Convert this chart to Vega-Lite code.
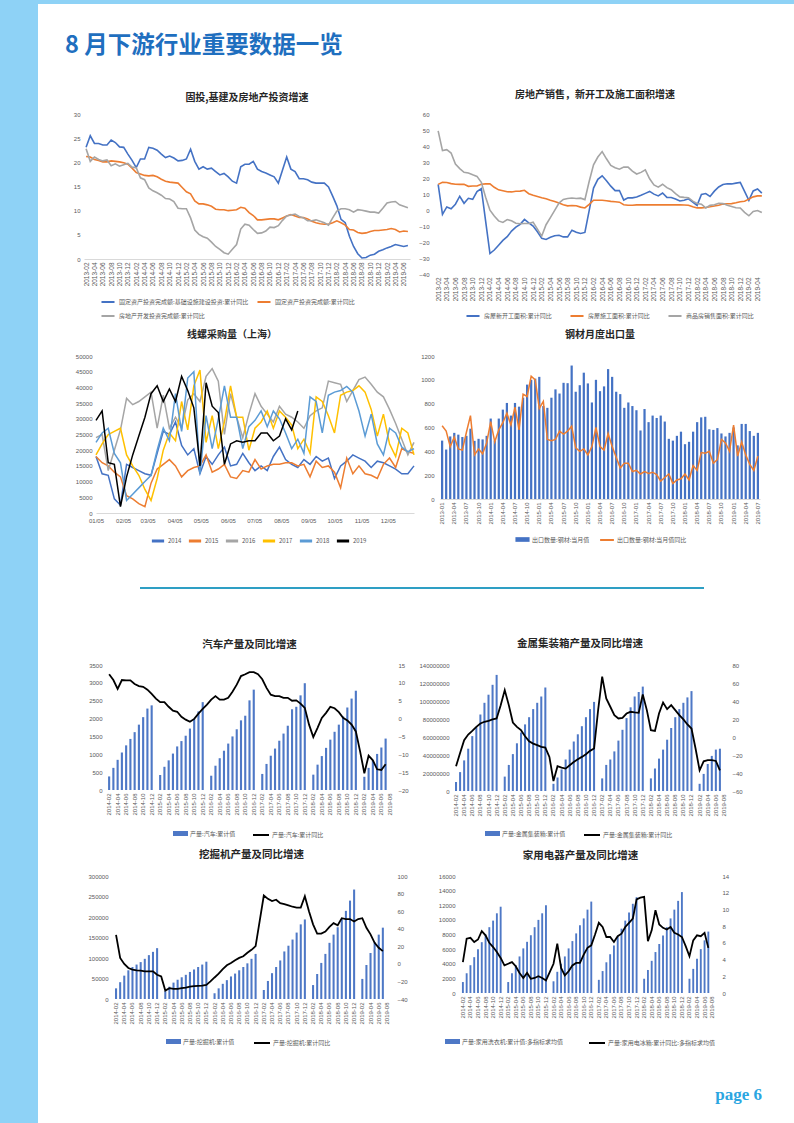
{
"$schema":"https://vega.github.io/schema/vega-lite/v6.json",
"padding":0,
"background":"white",
"columns":2,
"spacing":0,
"bounds":"flush",
"align":"each",
"resolve":{"scale":{"color":"independent","fill":"independent","stroke":"independent"},"legend":{"color":"independent","fill":"independent","stroke":"independent"}},
"concat":[
{"width":38,"height":114,"data":{"values":[{}]},"mark":{"type":"rect","color":"#8ED2F6"},"encoding":{}},
{"width":756,"height":4,"data":{"values":[{}]},"mark":{"type":"rect","color":"#8ED2F6"},"encoding":{},"title":{"text":"8 月下游行业重要数据一览","orient":"bottom","anchor":"start","dx":27,"offset":30,"fontSize":23.5,"fontWeight":"bold","color":"#1F6FBF"}},

{"width":38,"height":242,"data":{"values":[{}]},"mark":{"type":"rect","color":"#8ED2F6"},"encoding":{}},
{"spacing":0,"bounds":"flush","resolve":{"scale":{"color":"independent","fill":"independent","stroke":"independent"},"legend":{"color":"independent","fill":"independent","stroke":"independent"}},"hconcat":[
{"width":46,"height":1,"data":{"values":[]},"mark":"rect"},
{"width":326,"height":145,
 "title":{"text":"固投,基建及房地产投资增速","offset":8},
 "data":{"values":[
{"m":"2013-02","a":23.1,"b":21.2,"c":22.8},{"m":"2013-03","a":25.5,"b":21.1,"c":20.2},{"m":"2013-04","a":23.9,"b":20.6,"c":21.1},{"m":"2013-05","a":23.9,"b":20.4,"c":20.6},{"m":"2013-06","a":23.6,"b":20.1,"c":20.3},{"m":"2013-07","a":23.6,"b":20.1,"c":20.5},{"m":"2013-08","a":24.6,"b":20.3,"c":19.3},{"m":"2013-09","a":24.1,"b":20.2,"c":19.7},{"m":"2013-10","a":23.2,"b":20.1,"c":19.2},{"m":"2013-11","a":23.1,"b":19.9,"c":19.5},{"m":"2013-12","a":21.7,"b":19.6,"c":19.8},
{"m":"2014-01","a":20.4,"b":18.8,"c":19.0},{"m":"2014-02","a":18.9,"b":17.9,"c":18.9},{"m":"2014-03","a":20.7,"b":17.6,"c":16.8},{"m":"2014-04","a":20.7,"b":17.3,"c":16.4},{"m":"2014-05","a":23.1,"b":17.2,"c":14.7},{"m":"2014-06","a":22.9,"b":17.3,"c":14.1},{"m":"2014-07","a":22.5,"b":17.0,"c":13.7},{"m":"2014-08","a":21.7,"b":16.5,"c":13.2},{"m":"2014-09","a":21.0,"b":16.1,"c":12.5},{"m":"2014-10","a":21.3,"b":15.9,"c":12.4},{"m":"2014-11","a":20.9,"b":15.8,"c":11.9},{"m":"2014-12","a":20.3,"b":15.7,"c":10.5},
{"m":"2015-01","a":20.4,"b":14.8,"c":10.4},{"m":"2015-02","a":20.7,"b":13.9,"c":10.4},{"m":"2015-03","a":22.7,"b":13.5,"c":8.5},{"m":"2015-04","a":20.2,"b":12.0,"c":6.0},{"m":"2015-05","a":18.6,"b":11.4,"c":5.1},{"m":"2015-06","a":19.1,"b":11.4,"c":4.6},{"m":"2015-07","a":18.6,"b":11.2,"c":4.3},{"m":"2015-08","a":18.8,"b":10.9,"c":3.5},{"m":"2015-09","a":18.1,"b":10.3,"c":2.6},{"m":"2015-10","a":17.4,"b":10.2,"c":2.0},{"m":"2015-11","a":17.7,"b":10.2,"c":1.3},{"m":"2015-12","a":17.0,"b":10.0,"c":1.0},
{"m":"2016-01","a":16.1,"b":10.1,"c":2.0},{"m":"2016-02","a":15.7,"b":10.2,"c":3.0},{"m":"2016-03","a":19.1,"b":10.7,"c":6.2},{"m":"2016-04","a":19.6,"b":10.5,"c":7.2},{"m":"2016-05","a":19.6,"b":9.6,"c":7.0},{"m":"2016-06","a":20.2,"b":9.0,"c":6.1},{"m":"2016-07","a":18.6,"b":8.1,"c":5.3},{"m":"2016-08","a":18.1,"b":8.1,"c":5.4},{"m":"2016-09","a":17.8,"b":8.2,"c":5.8},{"m":"2016-10","a":17.4,"b":8.3,"c":6.6},{"m":"2016-11","a":17.0,"b":8.3,"c":6.5},{"m":"2016-12","a":15.7,"b":8.1,"c":6.9},
{"m":"2017-01","a":18.4,"b":8.5,"c":8.0},{"m":"2017-02","a":21.1,"b":8.9,"c":8.9},{"m":"2017-03","a":18.6,"b":9.2,"c":9.1},{"m":"2017-04","a":18.1,"b":8.9,"c":9.3},{"m":"2017-05","a":16.6,"b":8.6,"c":8.8},{"m":"2017-06","a":16.6,"b":8.6,"c":8.5},{"m":"2017-07","a":16.4,"b":8.3,"c":7.9},{"m":"2017-08","a":15.9,"b":7.8,"c":7.9},{"m":"2017-09","a":15.7,"b":7.5,"c":8.1},{"m":"2017-10","a":15.7,"b":7.3,"c":7.8},{"m":"2017-11","a":15.7,"b":7.2,"c":7.5},{"m":"2017-12","a":14.9,"b":7.2,"c":7.0},
{"m":"2018-01","a":13.0,"b":7.5,"c":8.5},{"m":"2018-02","a":11.0,"b":7.9,"c":9.9},{"m":"2018-03","a":8.2,"b":7.5,"c":10.4},{"m":"2018-04","a":7.5,"b":7.0,"c":10.4},{"m":"2018-05","a":4.7,"b":6.1,"c":10.2},{"m":"2018-06","a":2.6,"b":6.0,"c":9.7},{"m":"2018-07","a":1.1,"b":5.5,"c":10.2},{"m":"2018-08","a":0.2,"b":5.3,"c":10.1},{"m":"2018-09","a":0.3,"b":5.4,"c":9.9},{"m":"2018-10","a":0.8,"b":5.7,"c":9.7},{"m":"2018-11","a":1.0,"b":5.9,"c":9.7},{"m":"2018-12","a":1.6,"b":5.9,"c":9.5},
{"m":"2019-01","a":1.9,"b":6.0,"c":10.5},{"m":"2019-02","a":2.3,"b":6.1,"c":11.6},{"m":"2019-03","a":2.6,"b":6.3,"c":11.8},{"m":"2019-04","a":3.0,"b":6.1,"c":11.9},{"m":"2019-05","a":2.8,"b":5.6,"c":11.2},{"m":"2019-06","a":2.6,"b":5.8,"c":10.9},{"m":"2019-07","a":2.8,"b":5.7,"c":10.6}
 ]},
 "transform":[{"fold":["a","b","c"],"as":["k","v"]}],
 "mark":{"type":"line","strokeWidth":1.6},
 "encoding":{
  "x":{"field":"m","type":"ordinal","title":null,"axis":{"labelAngle":-90,"labelFontSize":6.5,"labelOverlap":false,"labelPadding":3,"domain":true,"domainColor":"#D9D9D9","labelExpr":"toNumber(substring(datum.label,5,7)) % 2 == 0 ? datum.label : ''"}},
  "y":{"field":"v","type":"quantitative","title":null,"scale":{"domain":[0,30],"nice":false},"axis":{"values":[0,5,10,15,20,25,30],"format":"d"}},
  "color":{"field":"k","type":"nominal","scale":{"domain":["a","b","c"],"range":["#4472C4","#ED7D31","#A5A5A5"]},"legend":{"title":null,"orient":"none","legendX":16,"legendY":180,"direction":"horizontal","columns":2,"symbolType":"stroke","symbolSize":170,"symbolStrokeWidth":2,"columnPadding":4,"rowPadding":2,"labelExpr":"datum.label == 'a' ? '固定资产投资完成额:基础设施建设投资:累计同比' : datum.label == 'b' ? '固定资产投资完成额:累计同比' : '房地产开发投资完成额:累计同比'"}}
 }},
{"width":26,"height":1,"data":{"values":[]},"mark":"rect"},
{"width":328,"height":160,
 "title":{"text":"房地产销售，新开工及施工面积增速","offset":11,"dx":-5},
 "data":{"values":[
{"m":"2013-02","a":16.0,"b":16.0,"c":49.5},{"m":"2013-03","a":-2.7,"b":17.3,"c":37.1},{"m":"2013-04","a":1.9,"b":17.2,"c":37.7},{"m":"2013-05","a":0.8,"b":16.5,"c":35.6},{"m":"2013-06","a":3.6,"b":16.1,"c":28.7},{"m":"2013-07","a":8.6,"b":16.0,"c":25.9},{"m":"2013-08","a":4.2,"b":16.1,"c":23.6},{"m":"2013-09","a":7.3,"b":14.8,"c":23.1},{"m":"2013-10","a":6.7,"b":15.0,"c":22.0},{"m":"2013-11","a":11.5,"b":15.0,"c":21.0},{"m":"2013-12","a":13.4,"b":16.1,"c":17.3},
{"m":"2014-01","a":-7.0,"b":16.3,"c":8.0},{"m":"2014-02","a":-27.2,"b":16.3,"c":-0.1},{"m":"2014-03","a":-25.0,"b":14.2,"c":-3.8},{"m":"2014-04","a":-22.0,"b":12.6,"c":-6.8},{"m":"2014-05","a":-19.0,"b":12.0,"c":-7.8},{"m":"2014-06","a":-16.7,"b":11.4,"c":-6.0},{"m":"2014-07","a":-13.2,"b":11.3,"c":-6.7},{"m":"2014-08","a":-10.7,"b":11.7,"c":-8.3},{"m":"2014-09","a":-9.0,"b":11.8,"c":-8.6},{"m":"2014-10","a":-5.9,"b":12.3,"c":-8.4},{"m":"2014-11","a":-8.0,"b":10.2,"c":-8.4},{"m":"2014-12","a":-10.0,"b":9.2,"c":-7.6},
{"m":"2015-01","a":-13.6,"b":8.5,"c":-12.0},{"m":"2015-02","a":-17.7,"b":7.7,"c":-16.3},{"m":"2015-03","a":-18.4,"b":7.0,"c":-9.2},{"m":"2015-04","a":-17.1,"b":6.1,"c":-4.8},{"m":"2015-05","a":-16.1,"b":5.3,"c":-0.2},{"m":"2015-06","a":-15.8,"b":4.3,"c":4.3},{"m":"2015-07","a":-16.8,"b":3.3,"c":6.6},{"m":"2015-08","a":-16.8,"b":2.6,"c":7.2},{"m":"2015-09","a":-12.6,"b":2.8,"c":7.5},{"m":"2015-10","a":-13.9,"b":2.7,"c":7.2},{"m":"2015-11","a":-14.7,"b":1.8,"c":7.4},{"m":"2015-12","a":-14.0,"b":1.3,"c":6.5},
{"m":"2016-01","a":-0.2,"b":3.5,"c":18.0},{"m":"2016-02","a":13.7,"b":6.1,"c":28.2},{"m":"2016-03","a":19.2,"b":6.1,"c":33.1},{"m":"2016-04","a":21.4,"b":6.1,"c":36.5},{"m":"2016-05","a":18.3,"b":5.8,"c":32.0},{"m":"2016-06","a":14.9,"b":5.4,"c":27.9},{"m":"2016-07","a":12.1,"b":5.2,"c":26.4},{"m":"2016-08","a":12.2,"b":4.9,"c":25.5},{"m":"2016-09","a":6.2,"b":3.3,"c":26.9},{"m":"2016-10","a":7.6,"b":3.0,"c":26.8},{"m":"2016-11","a":7.6,"b":3.0,"c":24.3},{"m":"2016-12","a":8.1,"b":3.2,"c":22.5},
{"m":"2017-01","a":9.2,"b":3.2,"c":23.5},{"m":"2017-02","a":10.4,"b":3.2,"c":25.1},{"m":"2017-03","a":11.6,"b":3.2,"c":19.5},{"m":"2017-04","a":9.9,"b":3.2,"c":15.7},{"m":"2017-05","a":8.8,"b":3.2,"c":14.3},{"m":"2017-06","a":10.6,"b":3.2,"c":16.1},{"m":"2017-07","a":7.9,"b":3.2,"c":14.0},{"m":"2017-08","a":7.8,"b":3.2,"c":12.7},{"m":"2017-09","a":6.9,"b":3.2,"c":10.3},{"m":"2017-10","a":5.6,"b":3.2,"c":8.2},{"m":"2017-11","a":6.1,"b":3.1,"c":7.9},{"m":"2017-12","a":7.0,"b":3.0,"c":7.7},
{"m":"2018-01","a":5.0,"b":2.0,"c":5.5},{"m":"2018-02","a":2.9,"b":1.3,"c":4.1},{"m":"2018-03","a":9.7,"b":1.3,"c":3.6},{"m":"2018-04","a":10.3,"b":1.6,"c":1.3},{"m":"2018-05","a":8.5,"b":2.0,"c":2.9},{"m":"2018-06","a":11.8,"b":2.5,"c":3.3},{"m":"2018-07","a":14.4,"b":3.0,"c":4.2},{"m":"2018-08","a":15.9,"b":3.7,"c":4.0},{"m":"2018-09","a":16.4,"b":3.9,"c":2.9},{"m":"2018-10","a":16.3,"b":4.0,"c":2.2},{"m":"2018-11","a":16.8,"b":4.5,"c":1.4},{"m":"2018-12","a":17.2,"b":5.2,"c":1.3},
{"m":"2019-01","a":11.6,"b":5.5,"c":-1.5},{"m":"2019-02","a":6.0,"b":6.8,"c":-3.6},{"m":"2019-03","a":11.9,"b":8.2,"c":-0.9},{"m":"2019-04","a":13.1,"b":8.8,"c":-0.3},{"m":"2019-05","a":10.5,"b":8.8,"c":-1.6}
 ]},
 "transform":[{"fold":["a","b","c"],"as":["k","v"]}],
 "mark":{"type":"line","strokeWidth":1.6},
 "encoding":{
  "x":{"field":"m","type":"ordinal","title":null,"axis":{"labelAngle":-90,"labelFontSize":6.5,"labelOverlap":false,"labelPadding":3,"labelExpr":"toNumber(substring(datum.label,5,7)) % 2 == 0 ? datum.label : ''"}},
  "y":{"field":"v","type":"quantitative","title":null,"scale":{"domain":[-40,60],"nice":false},"axis":{"values":[-40,-30,-20,-10,0,10,20,30,40,50,60],"format":"d","labelPadding":7}},
  "color":{"field":"k","type":"nominal","scale":{"domain":["a","b","c"],"range":["#4472C4","#ED7D31","#A5A5A5"]},"legend":{"title":null,"orient":"none","legendX":29,"legendY":194,"direction":"horizontal","symbolType":"stroke","symbolSize":170,"symbolStrokeWidth":2,"columnPadding":14,"labelExpr":"datum.label == 'a' ? '房屋新开工面积:累计同比' : datum.label == 'b' ? '房屋施工面积:累计同比' : '商品房销售面积:累计同比'"}}
 }}
]},

{"width":38,"height":231,"data":{"values":[{}]},"mark":{"type":"rect","color":"#8ED2F6"},"encoding":{}},
{"spacing":0,"bounds":"flush","resolve":{"scale":{"color":"independent","fill":"independent","stroke":"independent"},"legend":{"color":"independent","fill":"independent","stroke":"independent"}},"hconcat":[
{"width":58,"height":1,"data":{"values":[]},"mark":"rect"},
{"width":318,"height":157,
 "title":{"text":"线螺采购量（上海）","offset":13,"dx":-23},
 "data":{"values":[
{"d":5,"2014":18000,"2015":18000,"2016":24000,"2017":18500,"2018":22500,"2019":29500},
{"d":12,"2014":12500,"2015":16000,"2016":25000,"2017":22000,"2018":25500,"2019":32500},
{"d":19,"2014":12000,"2015":15000,"2016":13500,"2017":25000,"2018":27000,"2019":16000},
{"d":26,"2014":4500,"2015":13000,"2016":20000,"2017":26000,"2018":19000,"2019":15500},
{"d":33,"2014":2500,"2015":11500,"2016":26500,"2017":27000,"2018":16000,"2019":2000},
{"d":40,"2014":15500,"2015":5500,"2016":36500,"2017":18500,"2018":4000,"2019":11500},
{"d":47,"2014":14500,"2015":4500,"2016":34500,"2017":15000,"2018":6000,"2019":18500},
{"d":54,"2014":13500,"2015":3000,"2016":35500,"2017":12000,"2018":8000,"2019":24500},
{"d":61,"2014":12500,"2015":2000,"2016":37000,"2017":7500,"2018":10000,"2019":30500},
{"d":68,"2014":12000,"2015":9500,"2016":38500,"2017":4000,"2018":12000,"2019":38000},
{"d":75,"2014":19000,"2015":14000,"2016":27000,"2017":11000,"2018":20000,"2019":40500},
{"d":82,"2014":26000,"2015":15500,"2016":37500,"2017":20000,"2018":27000,"2019":35500},
{"d":89,"2014":25000,"2015":17000,"2016":27000,"2017":25500,"2018":23000,"2019":39500},
{"d":96,"2014":29000,"2015":15000,"2016":30500,"2017":23000,"2018":38000,"2019":35500},
{"d":103,"2014":21500,"2015":11500,"2016":27000,"2017":35500,"2018":26000,"2019":43500},
{"d":110,"2014":18500,"2015":13500,"2016":36000,"2017":26500,"2018":43000,"2019":39000},
{"d":117,"2014":20500,"2015":14500,"2016":38000,"2017":40500,"2018":45000,"2019":33500},
{"d":124,"2014":12500,"2015":15000,"2016":35500,"2017":45500,"2018":12500,"2019":15000},
{"d":131,"2014":18000,"2015":18500,"2016":43500,"2017":22500,"2018":31000,"2019":41500},
{"d":138,"2014":15500,"2015":13000,"2016":46000,"2017":31000,"2018":20500,"2019":34000},
{"d":145,"2014":18500,"2015":14000,"2016":42000,"2017":20500,"2018":30000,"2019":32000},
{"d":152,"2014":21000,"2015":15500,"2016":25000,"2017":29000,"2018":40500,"2019":15500},
{"d":159,"2014":15000,"2015":11500,"2016":38000,"2017":40500,"2018":30500,"2019":22000},
{"d":166,"2014":15500,"2015":11000,"2016":30500,"2017":30500,"2018":30500,"2019":23000},
{"d":173,"2014":19000,"2015":13500,"2016":24000,"2017":30500,"2018":20500,"2019":22500},
{"d":180,"2014":16000,"2015":13000,"2016":31500,"2017":20000,"2018":27500,"2019":23000},
{"d":187,"2014":13500,"2015":17000,"2016":38000,"2017":27000,"2018":29500,"2019":23000},
{"d":194,"2014":15000,"2015":14000,"2016":34000,"2017":29000,"2018":32500,"2019":25500},
{"d":201,"2014":13500,"2015":15000,"2016":31500,"2017":32500,"2018":27500,"2019":25500},
{"d":208,"2014":18000,"2015":15500,"2016":29000,"2017":27000,"2018":32500,"2019":23000},
{"d":215,"2014":21000,"2015":15500,"2016":34000,"2017":32500,"2018":30000,"2019":24500},
{"d":222,"2014":17000,"2015":16000,"2016":31500,"2017":30500,"2018":25500,"2019":30000},
{"d":229,"2014":15500,"2015":16000,"2016":30500,"2017":28000,"2018":20500,"2019":26500},
{"d":236,"2014":14500,"2015":15000,"2016":29000,"2017":20500,"2018":23500,"2019":32500},
{"d":243,"2014":17000,"2015":15500,"2016":27000,"2017":23500,"2018":19000},
{"d":250,"2014":15500,"2015":11500,"2016":31000,"2017":19000,"2018":37000},
{"d":257,"2014":18000,"2015":16500,"2016":32500,"2017":37000,"2018":35500},
{"d":264,"2014":16500,"2015":14500,"2016":33500,"2017":35500,"2018":25500},
{"d":271,"2014":17500,"2015":15000,"2016":42000,"2017":31000,"2018":37500},
{"d":278,"2014":11000,"2015":13000,"2016":41500,"2017":25500,"2018":38500},
{"d":285,"2014":15000,"2015":8000,"2016":41000,"2017":37500,"2018":39000},
{"d":292,"2014":16500,"2015":17500,"2016":35500,"2017":38500,"2018":40300},
{"d":299,"2014":18500,"2015":12500,"2016":39000,"2017":39000,"2018":38500},
{"d":306,"2014":17500,"2015":15000,"2016":42500,"2017":40500,"2018":32500},
{"d":313,"2014":16500,"2015":12500,"2016":43300,"2017":38500,"2018":24500},
{"d":320,"2014":14500,"2015":12000,"2016":41000,"2017":33000,"2018":31500},
{"d":327,"2014":16500,"2015":11000,"2016":38500,"2017":24500,"2018":22000},
{"d":334,"2014":16000,"2015":15500,"2016":37000,"2017":31500,"2018":18500},
{"d":341,"2014":15000,"2015":17500,"2016":33000,"2017":22000,"2018":27000},
{"d":348,"2014":14000,"2015":14500,"2016":28500,"2017":18000,"2018":25500},
{"d":355,"2014":12500,"2015":20500,"2016":23500,"2017":27000,"2018":21000},
{"d":362,"2014":12500,"2015":19500,"2016":18500,"2017":25500,"2018":19500},
{"d":369,"2014":15000,"2015":19000,"2016":22500,"2017":18500,"2018":20500}
 ]},
 "transform":[{"fold":["2014","2015","2016","2017","2018","2019"],"as":["yr","v"]}],
 "mark":{"type":"line","strokeWidth":1.5},
 "encoding":{
  "x":{"field":"d","type":"quantitative","title":null,"scale":{"domain":[5,369],"nice":false,"zero":false},"axis":{"values":[5,36,64,95,125,156,186,217,248,278,309,339],"labelAngle":0,"labelFontSize":6,"labelPadding":4,"labelFlush":false,"domain":true,"domainColor":"#D9D9D9","labelExpr":"['01/05','02/05','03/05','04/05','05/05','06/05','07/05','08/05','09/05','10/05','11/05','12/05'][indexof([5,36,64,95,125,156,186,217,248,278,309,339], datum.value)]"}},
  "y":{"field":"v","type":"quantitative","title":null,"scale":{"domain":[0,50000],"nice":false},"axis":{"values":[0,5000,10000,15000,20000,25000,30000,35000,40000,45000,50000],"format":"d"}},
  "color":{"field":"yr","type":"nominal","scale":{"domain":["2014","2015","2016","2017","2018","2019"],"range":["#4472C4","#ED7D31","#A5A5A5","#FFC000","#5B9BD5","#000000"]},"legend":{"title":null,"orient":"none","legendX":54,"legendY":177,"direction":"horizontal","symbolType":"stroke","symbolSize":150,"symbolStrokeWidth":3,"columnPadding":0,"labelOffset":2}}
 }},
{"width":26,"height":1,"data":{"values":[]},"mark":"rect"},
{"width":320,"height":143,
 "title":{"text":"钢材月度出口量","offset":13},
 "data":{"values":[
{"m":"2013-01","b":490,"l":615},{"m":"2013-02","b":415,"l":570},{"m":"2013-03","b":525,"l":440},{"m":"2013-04","b":555,"l":520},{"m":"2013-05","b":540,"l":420},{"m":"2013-06","b":520,"l":410},{"m":"2013-07","b":530,"l":560},{"m":"2013-08","b":590,"l":700},{"m":"2013-09","b":488,"l":370},{"m":"2013-10","b":505,"l":420},{"m":"2013-11","b":500,"l":380},{"m":"2013-12","b":530,"l":470},
{"m":"2014-01","b":675,"l":650},{"m":"2014-02","b":490,"l":480},{"m":"2014-03","b":675,"l":580},{"m":"2014-04","b":750,"l":640},{"m":"2014-05","b":806,"l":720},{"m":"2014-06","b":700,"l":620},{"m":"2014-07","b":806,"l":770},{"m":"2014-08","b":775,"l":580},{"m":"2014-09","b":850,"l":880},{"m":"2014-10","b":960,"l":860},{"m":"2014-11","b":1000,"l":1030},{"m":"2014-12","b":1010,"l":1000},
{"m":"2015-01","b":1025,"l":760},{"m":"2015-02","b":780,"l":820},{"m":"2015-03","b":765,"l":500},{"m":"2015-04","b":850,"l":490},{"m":"2015-05","b":920,"l":500},{"m":"2015-06","b":885,"l":570},{"m":"2015-07","b":975,"l":545},{"m":"2015-08","b":972,"l":570},{"m":"2015-09","b":1120,"l":610},{"m":"2015-10","b":900,"l":430},{"m":"2015-11","b":955,"l":400},{"m":"2015-12","b":1060,"l":420},
{"m":"2016-01","b":970,"l":370},{"m":"2016-02","b":810,"l":440},{"m":"2016-03","b":1000,"l":600},{"m":"2016-04","b":905,"l":440},{"m":"2016-05","b":945,"l":410},{"m":"2016-06","b":1090,"l":550},{"m":"2016-07","b":1025,"l":440},{"m":"2016-08","b":900,"l":350},{"m":"2016-09","b":880,"l":260},{"m":"2016-10","b":765,"l":300},{"m":"2016-11","b":810,"l":300},{"m":"2016-12","b":780,"l":230},
{"m":"2017-01","b":745,"l":240},{"m":"2017-02","b":575,"l":210},{"m":"2017-03","b":755,"l":230},{"m":"2017-04","b":645,"l":215},{"m":"2017-05","b":700,"l":225},{"m":"2017-06","b":680,"l":205},{"m":"2017-07","b":700,"l":150},{"m":"2017-08","b":650,"l":180},{"m":"2017-09","b":505,"l":210},{"m":"2017-10","b":490,"l":130},{"m":"2017-11","b":530,"l":160},{"m":"2017-12","b":565,"l":170},
{"m":"2018-01","b":460,"l":210},{"m":"2018-02","b":480,"l":160},{"m":"2018-03","b":565,"l":280},{"m":"2018-04","b":645,"l":240},{"m":"2018-05","b":685,"l":390},{"m":"2018-06","b":690,"l":385},{"m":"2018-07","b":585,"l":400},{"m":"2018-08","b":580,"l":300},{"m":"2018-09","b":595,"l":330},{"m":"2018-10","b":550,"l":500},{"m":"2018-11","b":525,"l":470},{"m":"2018-12","b":555,"l":400},
{"m":"2019-01","b":600,"l":620},{"m":"2019-02","b":450,"l":360},{"m":"2019-03","b":630,"l":480},{"m":"2019-04","b":630,"l":370},{"m":"2019-05","b":570,"l":290},{"m":"2019-06","b":530,"l":240},{"m":"2019-07","b":555,"l":360}
 ]},
 "layer":[
  {"mark":{"type":"bar"},"encoding":{
   "x":{"field":"m","type":"ordinal","title":null,"scale":{"paddingInner":0.45,"paddingOuter":0.25},"axis":{"labelAngle":-90,"labelFontSize":6,"labelOverlap":false,"labelPadding":3,"domain":true,"domainColor":"#D9D9D9","labelExpr":"toNumber(substring(datum.label,5,7)) % 3 == 1 ? datum.label : ''"}},
   "y":{"field":"b","type":"quantitative","title":null,"scale":{"domain":[0,1200],"nice":false},"axis":{"values":[0,200,400,600,800,1000,1200],"format":"d","labelPadding":6}},
   "fill":{"datum":"出口数量:钢材:当月值","scale":{"range":["#4472C4"]},"legend":{"title":null,"orient":"none","legendX":75,"legendY":176,"symbolType":"M-1,-0.33H1V0.33H-1Z","symbolSize":200,"symbolStrokeWidth":0,"labelOffset":2}}
  }},
  {"mark":{"type":"line","strokeWidth":1.5},"encoding":{
   "x":{"field":"m","type":"ordinal","bandPosition":0.5},
   "y":{"field":"l","type":"quantitative","title":null,"scale":{"domain":[0,1200],"nice":false},"axis":{"values":[0,200,400,600,800,1000,1200],"format":"d","labelPadding":6}},
   "stroke":{"datum":"出口数量:钢材:当月值同比","scale":{"range":["#ED7D31"]},"legend":{"title":null,"orient":"none","legendX":159,"legendY":176,"symbolType":"stroke","symbolSize":190,"symbolStrokeWidth":2,"labelOffset":2}}
  }}
 ]}
]},

{"width":38,"height":78,"data":{"values":[{}]},"mark":{"type":"rect","color":"#8ED2F6"},"encoding":{}},
{"spacing":0,"bounds":"flush","hconcat":[
{"width":102,"height":1,"data":{"values":[]},"mark":"rect"},
{"width":564,"height":2,"data":{"values":[{}]},"mark":{"type":"rect","color":"#2E9FC4"},"encoding":{}}
]},

{"width":38,"height":211,"data":{"values":[{}]},"mark":{"type":"rect","color":"#8ED2F6"},"encoding":{}},
{"spacing":0,"bounds":"flush","resolve":{"scale":{"color":"independent","fill":"independent","stroke":"independent"},"legend":{"color":"independent","fill":"independent","stroke":"independent"}},"hconcat":[
{"width":69,"height":1,"data":{"values":[]},"mark":"rect"},
{"width":285,"height":125,
 "title":{"text":"汽车产量及同比增速","offset":12,"fontSize":10.5},
 "data":{"values":[
{"m":"2014-02","b":380,"l":12.4},{"m":"2014-03","b":620,"l":10.8},{"m":"2014-04","b":845,"l":8.3},{"m":"2014-05","b":1050,"l":10.8},{"m":"2014-06","b":1250,"l":10.7},{"m":"2014-07","b":1430,"l":10.7},{"m":"2014-08","b":1620,"l":9.7},{"m":"2014-09","b":1830,"l":9.1},{"m":"2014-10","b":2040,"l":8.9},{"m":"2014-11","b":2280,"l":8.1},{"m":"2014-12","b":2370,"l":6.9},
{"m":"2015-01","l":5.6},{"m":"2015-02","b":420,"l":4.6},{"m":"2015-03","b":650,"l":4.6},{"m":"2015-04","b":830,"l":3.3},{"m":"2015-05","b":1020,"l":2.2},{"m":"2015-06","b":1220,"l":1.9},{"m":"2015-07","b":1370,"l":0.5},{"m":"2015-08","b":1520,"l":-0.3},{"m":"2015-09","b":1720,"l":-0.9},{"m":"2015-10","b":1990,"l":-0.1},{"m":"2015-11","b":2200,"l":1.4},{"m":"2015-12","b":2460,"l":2.7},
{"m":"2016-01","l":3.9},{"m":"2016-02","b":400,"l":5.3},{"m":"2016-03","b":680,"l":6.3},{"m":"2016-04","b":890,"l":5.3},{"m":"2016-05","b":1100,"l":5.3},{"m":"2016-06","b":1300,"l":5.8},{"m":"2016-07","b":1500,"l":7.5},{"m":"2016-08","b":1700,"l":9.5},{"m":"2016-09","b":1950,"l":11.9},{"m":"2016-10","b":2080,"l":12.4},{"m":"2016-11","b":2510,"l":13.0},{"m":"2016-12","b":2810,"l":13.0},
{"m":"2017-01","l":12.4},{"m":"2017-02","b":450,"l":11.0},{"m":"2017-03","b":730,"l":8.6},{"m":"2017-04","b":960,"l":6.7},{"m":"2017-05","b":1160,"l":6.3},{"m":"2017-06","b":1380,"l":6.3},{"m":"2017-07","b":1580,"l":5.8},{"m":"2017-08","b":1800,"l":5.8},{"m":"2017-09","b":2260,"l":5.0},{"m":"2017-10","b":2330,"l":5.1},{"m":"2017-11","b":2650,"l":4.2},{"m":"2017-12","b":2990,"l":3.0},
{"m":"2018-01","l":-1.7},{"m":"2018-02","b":430,"l":-5.2},{"m":"2018-03","b":710,"l":-2.6},{"m":"2018-04","b":950,"l":0.2},{"m":"2018-05","b":1180,"l":1.6},{"m":"2018-06","b":1410,"l":3.3},{"m":"2018-07","b":1630,"l":2.9},{"m":"2018-08","b":1830,"l":1.8},{"m":"2018-09","b":2060,"l":0.2},{"m":"2018-10","b":2310,"l":-0.5},{"m":"2018-11","b":2560,"l":-1.7},{"m":"2018-12","b":2780,"l":-3.6},
{"m":"2019-01","l":-9.2},{"m":"2019-02","b":370,"l":-15.3},{"m":"2019-03","b":620,"l":-10.4},{"m":"2019-04","b":820,"l":-11.7},{"m":"2019-05","b":1010,"l":-14.2},{"m":"2019-06","b":1190,"l":-14.4},{"m":"2019-07","b":1440,"l":-12.8},{"m":"2019-08"}
 ]},
 "layer":[
  {"mark":{"type":"bar"},"encoding":{
   "x":{"field":"m","type":"ordinal","title":null,"scale":{"paddingInner":0.5,"paddingOuter":0.25},"axis":{"labelAngle":-90,"labelFontSize":6,"labelOverlap":false,"labelPadding":3,"labelExpr":"toNumber(substring(datum.label,5,7)) % 2 == 0 ? datum.label : ''"}},
   "y":{"field":"b","type":"quantitative","title":null,"scale":{"domain":[0,3500],"nice":false},"axis":{"values":[0,500,1000,1500,2000,2500,3000,3500],"format":"d","labelPadding":5}},
   "fill":{"datum":"产量:汽车:累计值","scale":{"range":["#4E78C6"]},"legend":{"title":null,"orient":"none","legendX":66,"legendY":161,"symbolType":"M-1,-0.33H1V0.33H-1Z","symbolSize":225,"symbolStrokeWidth":0,"labelOffset":2}}
  }},
  {"mark":{"type":"line","strokeWidth":1.8},"encoding":{
   "x":{"field":"m","type":"ordinal","bandPosition":0.5},
   "y":{"field":"l","type":"quantitative","title":null,"scale":{"domain":[-20,15],"nice":false},"axis":{"orient":"right","values":[-20,-15,-10,-5,0,5,10,15],"format":"d","labelPadding":6}},
   "stroke":{"datum":"产量:汽车:累计同比","scale":{"range":["#000000"]},"legend":{"title":null,"orient":"none","legendX":145,"legendY":161,"symbolType":"stroke","symbolSize":256,"symbolStrokeWidth":2,"labelOffset":2}}
  }},
  {"mark":{"type":"text","text":""},"encoding":{"x":{"field":"m","type":"ordinal"}}}
 ],
 "resolve":{"scale":{"y":"independent"}}},
{"width":62,"height":1,"data":{"values":[]},"mark":"rect"},
{"width":272,"height":126,
 "title":{"text":"金属集装箱产量及同比增速","offset":13,"fontSize":10.5,"dx":-10},
 "data":{"values":[
{"m":"2014-02","b":10000000,"l":-32.5},{"m":"2014-03","b":21000000,"l":-17.7},{"m":"2014-04","b":34000000,"l":-3.6},{"m":"2014-05","b":47000000,"l":2.8},{"m":"2014-06","b":61000000,"l":6.8},{"m":"2014-07","b":71000000,"l":11.3},{"m":"2014-08","b":85000000,"l":15.0},{"m":"2014-09","b":98000000,"l":16.9},{"m":"2014-10","b":107000000,"l":18.0},{"m":"2014-11","b":118000000,"l":19.5},{"m":"2014-12","b":129000000,"l":20.6},
{"m":"2015-01","l":35.4},{"m":"2015-02","b":16000000,"l":52.1},{"m":"2015-03","b":29000000,"l":35.4},{"m":"2015-04","b":41000000,"l":16.1},{"m":"2015-05","b":53000000,"l":11.3},{"m":"2015-06","b":65000000,"l":7.6},{"m":"2015-07","b":74000000,"l":0.9},{"m":"2015-08","b":82000000,"l":-4.7},{"m":"2015-09","b":91000000,"l":-7.3},{"m":"2015-10","b":98000000,"l":-9.1},{"m":"2015-11","b":105000000,"l":-11.0},{"m":"2015-12","b":115000000,"l":-11.7},
{"m":"2016-01","l":-22.1},{"m":"2016-02","b":8000000,"l":-48.9},{"m":"2016-03","b":15000000,"l":-32.5},{"m":"2016-04","b":24000000,"l":-34.0},{"m":"2016-05","b":35000000,"l":-35.1},{"m":"2016-06","b":46000000,"l":-31.4},{"m":"2016-07","b":55000000,"l":-27.7},{"m":"2016-08","b":63000000,"l":-24.7},{"m":"2016-09","b":72000000,"l":-22.1},{"m":"2016-10","b":82000000,"l":-19.2},{"m":"2016-11","b":91000000,"l":-15.4},{"m":"2016-12","b":99000000,"l":-12.8},
{"m":"2017-01","l":29.9},{"m":"2017-02","b":14000000,"l":67.0},{"m":"2017-03","b":29000000,"l":42.9},{"m":"2017-04","b":35000000,"l":33.6},{"m":"2017-05","b":44000000,"l":24.3},{"m":"2017-06","b":56000000,"l":20.6},{"m":"2017-07","b":68000000,"l":21.3},{"m":"2017-08","b":81000000,"l":26.1},{"m":"2017-09","b":93000000,"l":28.0},{"m":"2017-10","b":105000000,"l":27.3},{"m":"2017-11","b":110000000,"l":26.9},{"m":"2017-12","b":116000000,"l":47.3},
{"m":"2018-01","l":29.9},{"m":"2018-02","b":14000000,"l":7.6},{"m":"2018-03","b":25000000,"l":6.8},{"m":"2018-04","b":36000000,"l":26.1},{"m":"2018-05","b":46000000,"l":38.4},{"m":"2018-06","b":57000000,"l":31.0},{"m":"2018-07","b":70000000,"l":35.4},{"m":"2018-08","b":82000000,"l":29.9},{"m":"2018-09","b":91000000,"l":24.3},{"m":"2018-10","b":98000000,"l":19.5},{"m":"2018-11","b":104000000,"l":13.9},{"m":"2018-12","b":111000000,"l":9.4},
{"m":"2019-01","l":-12.8},{"m":"2019-02","b":8000000,"l":-37.0},{"m":"2019-03","b":19000000,"l":-27.0},{"m":"2019-04","b":30000000,"l":-25.8},{"m":"2019-05","b":39000000,"l":-25.8},{"m":"2019-06","b":46000000,"l":-26.6},{"m":"2019-07","b":47000000,"l":-37.0},{"m":"2019-08"}
 ]},
 "layer":[
  {"mark":{"type":"bar"},"encoding":{
   "x":{"field":"m","type":"ordinal","title":null,"scale":{"paddingInner":0.5,"paddingOuter":0.25},"axis":{"labelAngle":-90,"labelFontSize":6,"labelOverlap":false,"labelPadding":3,"labelExpr":"toNumber(substring(datum.label,5,7)) % 2 == 0 ? datum.label : ''"}},
   "y":{"field":"b","type":"quantitative","title":null,"scale":{"domain":[0,140000000],"nice":false},"axis":{"values":[0,20000000,40000000,60000000,80000000,100000000,120000000,140000000],"format":"d","labelPadding":5}},
   "fill":{"datum":"产量:金属集装箱:累计值","scale":{"range":["#4E78C6"]},"legend":{"title":null,"orient":"none","legendX":31,"legendY":161,"symbolType":"M-1,-0.33H1V0.33H-1Z","symbolSize":225,"symbolStrokeWidth":0,"labelOffset":2}}
  }},
  {"mark":{"type":"line","strokeWidth":1.8},"encoding":{
   "x":{"field":"m","type":"ordinal","bandPosition":0.5},
   "y":{"field":"l","type":"quantitative","title":null,"scale":{"domain":[-60,80],"nice":false},"axis":{"orient":"right","values":[-60,-40,-20,0,20,40,60,80],"format":"d","labelPadding":6}},
   "stroke":{"datum":"产量:金属集装箱:累计同比","scale":{"range":["#000000"]},"legend":{"title":null,"orient":"none","legendX":129,"legendY":161,"symbolType":"stroke","symbolSize":256,"symbolStrokeWidth":2,"labelOffset":2}}
  }},
  {"mark":{"type":"text","text":""},"encoding":{"x":{"field":"m","type":"ordinal"}}}
 ],
 "resolve":{"scale":{"y":"independent"}}}
]},

{"width":38,"height":204,"data":{"values":[{}]},"mark":{"type":"rect","color":"#8ED2F6"},"encoding":{}},
{"spacing":0,"bounds":"flush","resolve":{"scale":{"color":"independent","fill":"independent","stroke":"independent"},"legend":{"color":"independent","fill":"independent","stroke":"independent"}},"hconcat":[
{"width":76,"height":1,"data":{"values":[]},"mark":"rect"},
{"width":275,"height":123,
 "title":{"text":"挖掘机产量及同比增速","offset":13,"fontSize":10.5},
 "data":{"values":[
{"m":"2014-02","b":26000,"l":32.9},{"m":"2014-03","b":41000,"l":6.8},{"m":"2014-04","b":57000,"l":-0.1},{"m":"2014-05","b":70000,"l":-4.7},{"m":"2014-06","b":78000,"l":-6.6},{"m":"2014-07","b":84000,"l":-7.4},{"m":"2014-08","b":90000,"l":-7.8},{"m":"2014-09","b":98000,"l":-8.5},{"m":"2014-10","b":107000,"l":-8.5},{"m":"2014-11","b":115000,"l":-8.5},{"m":"2014-12","b":124000,"l":-12.4},
{"m":"2015-01","l":-14.3},{"m":"2015-02","b":19000,"l":-30.4},{"m":"2015-03","b":30000,"l":-27.7},{"m":"2015-04","b":40000,"l":-28.5},{"m":"2015-05","b":47000,"l":-28.5},{"m":"2015-06","b":53000,"l":-27.7},{"m":"2015-07","b":59000,"l":-27.0},{"m":"2015-08","b":66000,"l":-25.8},{"m":"2015-09","b":72000,"l":-25.4},{"m":"2015-10","b":78000,"l":-25.0},{"m":"2015-11","b":84000,"l":-24.7},{"m":"2015-12","b":91000,"l":-23.9},
{"m":"2016-01","l":-20.0},{"m":"2016-02","b":14000,"l":-15.5},{"m":"2016-03","b":26000,"l":-11.2},{"m":"2016-04","b":37000,"l":-5.9},{"m":"2016-05","b":46000,"l":-1.6},{"m":"2016-06","b":55000,"l":1.0},{"m":"2016-07","b":62000,"l":4.1},{"m":"2016-08","b":70000,"l":6.8},{"m":"2016-09","b":78000,"l":8.7},{"m":"2016-10","b":87000,"l":12.6},{"m":"2016-11","b":98000,"l":16.0},{"m":"2016-12","b":110000,"l":20.2},
{"m":"2017-01","l":49.0},{"m":"2017-02","b":22000,"l":77.8},{"m":"2017-03","b":44000,"l":74.0},{"m":"2017-04","b":63000,"l":71.5},{"m":"2017-05","b":78000,"l":73.0},{"m":"2017-06","b":94000,"l":69.0},{"m":"2017-07","b":116000,"l":68.0},{"m":"2017-08","b":130000,"l":66.5},{"m":"2017-09","b":145000,"l":65.0},{"m":"2017-10","b":162000,"l":64.0},{"m":"2017-11","b":182000,"l":64.0},{"m":"2017-12","b":194000,"l":77.0},
{"m":"2018-01","l":60.0},{"m":"2018-02","b":34000,"l":45.0},{"m":"2018-03","b":61000,"l":34.4},{"m":"2018-04","b":88000,"l":34.4},{"m":"2018-05","b":110000,"l":36.7},{"m":"2018-06","b":137000,"l":42.0},{"m":"2018-07","b":157000,"l":46.3},{"m":"2018-08","b":175000,"l":44.0},{"m":"2018-09","b":195000,"l":52.0},{"m":"2018-10","b":215000,"l":51.0},{"m":"2018-11","b":240000,"l":51.0},{"m":"2018-12","b":267000,"l":48.2},
{"m":"2019-01","l":51.0},{"m":"2019-02","b":49000,"l":52.0},{"m":"2019-03","b":83000,"l":41.0},{"m":"2019-04","b":112000,"l":33.6},{"m":"2019-05","b":138000,"l":24.0},{"m":"2019-06","b":157000,"l":18.3},{"m":"2019-07","b":174000,"l":14.5},{"m":"2019-08"}
 ]},
 "layer":[
  {"mark":{"type":"bar"},"encoding":{
   "x":{"field":"m","type":"ordinal","title":null,"scale":{"paddingInner":0.5,"paddingOuter":0.25},"axis":{"labelAngle":-90,"labelFontSize":6,"labelOverlap":false,"labelPadding":3,"labelExpr":"toNumber(substring(datum.label,5,7)) % 2 == 0 ? datum.label : ''"}},
   "y":{"field":"b","type":"quantitative","title":null,"scale":{"domain":[0,300000],"nice":false},"axis":{"values":[0,50000,100000,150000,200000,250000,300000],"format":"d","labelPadding":6}},
   "fill":{"datum":"产量:挖掘机:累计值","scale":{"range":["#4E78C6"]},"legend":{"title":null,"orient":"none","legendX":52,"legendY":158,"symbolType":"M-1,-0.33H1V0.33H-1Z","symbolSize":225,"symbolStrokeWidth":0,"labelOffset":2}}
  }},
  {"mark":{"type":"line","strokeWidth":1.8},"encoding":{
   "x":{"field":"m","type":"ordinal","bandPosition":0.5},
   "y":{"field":"l","type":"quantitative","title":null,"scale":{"domain":[-40,100],"nice":false},"axis":{"orient":"right","values":[-40,-20,0,20,40,60,80,100],"format":"d","labelPadding":8}},
   "stroke":{"datum":"产量:挖掘机:累计同比","scale":{"range":["#000000"]},"legend":{"title":null,"orient":"none","legendX":139,"legendY":158,"symbolType":"stroke","symbolSize":256,"symbolStrokeWidth":2,"labelOffset":2}}
  }},
  {"mark":{"type":"text","text":""},"encoding":{"x":{"field":"m","type":"ordinal"}}}
 ],
 "resolve":{"scale":{"y":"independent"}}},
{"width":72,"height":1,"data":{"values":[]},"mark":"rect"},
{"width":253,"height":117,
 "title":{"text":"家用电器产量及同比增速","offset":12,"fontSize":10.5,"dx":-7},
 "data":{"values":[
{"m":"2014-02","b":1500,"l":3.7},{"m":"2014-03","b":2700,"l":6.5},{"m":"2014-04","b":3800,"l":6.6},{"m":"2014-05","b":4900,"l":6.1},{"m":"2014-06","b":6000,"l":6.4},{"m":"2014-07","b":6950,"l":7.4},{"m":"2014-08","b":8000,"l":6.9},{"m":"2014-09","b":9000,"l":6.0},{"m":"2014-10","b":9900,"l":5.5},{"m":"2014-11","b":10900,"l":4.9},{"m":"2014-12","b":11800,"l":4.2},
{"m":"2015-01","l":3.3},{"m":"2015-02","b":1500,"l":3.5},{"m":"2015-03","b":2700,"l":3.7},{"m":"2015-04","b":3800,"l":3.2},{"m":"2015-05","b":5000,"l":2.4},{"m":"2015-06","b":6100,"l":1.8},{"m":"2015-07","b":7000,"l":2.4},{"m":"2015-08","b":7900,"l":1.7},{"m":"2015-09","b":9000,"l":1.8},{"m":"2015-10","b":10000,"l":2.0},{"m":"2015-11","b":10900,"l":1.8},{"m":"2015-12","b":12000,"l":1.5},
{"m":"2016-01","l":2.5},{"m":"2016-02","b":1600,"l":3.5},{"m":"2016-03","b":2900,"l":5.9},{"m":"2016-04","b":4000,"l":3.0},{"m":"2016-05","b":5000,"l":2.1},{"m":"2016-06","b":6100,"l":2.6},{"m":"2016-07","b":7100,"l":3.3},{"m":"2016-08","b":8150,"l":3.6},{"m":"2016-09","b":9250,"l":3.6},{"m":"2016-10","b":10200,"l":4.6},{"m":"2016-11","b":11400,"l":5.4},{"m":"2016-12","b":12500,"l":5.7},
{"m":"2017-01","l":7.0},{"m":"2017-02","b":1800,"l":8.4},{"m":"2017-03","b":3000,"l":7.9},{"m":"2017-04","b":4200,"l":6.7},{"m":"2017-05","b":5300,"l":6.7},{"m":"2017-06","b":6500,"l":6.1},{"m":"2017-07","b":7700,"l":6.8},{"m":"2017-08","b":8800,"l":7.1},{"m":"2017-09","b":9900,"l":7.9},{"m":"2017-10","b":11000,"l":8.4},{"m":"2017-11","b":12200,"l":8.9},{"m":"2017-12","b":13100,"l":11.2},
{"m":"2018-01","l":11.4},{"m":"2018-02","b":1950,"l":11.5},{"m":"2018-03","b":3150,"l":6.2},{"m":"2018-04","b":4400,"l":7.5},{"m":"2018-05","b":5600,"l":9.9},{"m":"2018-06","b":6700,"l":8.2},{"m":"2018-07","b":7850,"l":7.8},{"m":"2018-08","b":9000,"l":7.6},{"m":"2018-09","b":10200,"l":7.9},{"m":"2018-10","b":11400,"l":7.2},{"m":"2018-11","b":12600,"l":7.0},{"m":"2018-12","b":13800,"l":6.7},
{"m":"2019-01","l":5.6},{"m":"2019-02","b":1950,"l":4.4},{"m":"2019-03","b":3300,"l":6.3},{"m":"2019-04","b":4700,"l":6.9},{"m":"2019-05","b":6000,"l":6.8},{"m":"2019-06","b":7200,"l":7.2},{"m":"2019-07","b":8400,"l":5.4},{"m":"2019-08"}
 ]},
 "layer":[
  {"mark":{"type":"bar"},"encoding":{
   "x":{"field":"m","type":"ordinal","title":null,"scale":{"paddingInner":0.5,"paddingOuter":0.25},"axis":{"labelAngle":-90,"labelFontSize":6,"labelOverlap":false,"labelPadding":3,"labelExpr":"toNumber(substring(datum.label,5,7)) % 2 == 0 ? datum.label : ''"}},
   "y":{"field":"b","type":"quantitative","title":null,"scale":{"domain":[0,16000],"nice":false},"axis":{"values":[0,2000,4000,6000,8000,10000,12000,14000,16000],"format":"d","labelPadding":6}},
   "fill":{"datum":"产量:家用洗衣机:累计值:多指标求均值","scale":{"range":["#4E78C6"]},"legend":{"title":null,"orient":"none","legendX":-16,"legendY":158,"symbolType":"M-1,-0.33H1V0.33H-1Z","symbolSize":225,"symbolStrokeWidth":0,"labelOffset":2}}
  }},
  {"mark":{"type":"line","strokeWidth":1.8},"encoding":{
   "x":{"field":"m","type":"ordinal","bandPosition":0.5},
   "y":{"field":"l","type":"quantitative","title":null,"scale":{"domain":[0,14],"nice":false},"axis":{"orient":"right","values":[0,2,4,6,8,10,12,14],"format":"d","labelPadding":8}},
   "stroke":{"datum":"产量:家用电冰箱:累计同比:多指标求均值","scale":{"range":["#000000"]},"legend":{"title":null,"orient":"none","legendX":127,"legendY":158,"symbolType":"stroke","symbolSize":256,"symbolStrokeWidth":2,"labelOffset":2}}
  }},
  {"mark":{"type":"text","text":""},"encoding":{"x":{"field":"m","type":"ordinal"}}}
 ],
 "resolve":{"scale":{"y":"independent"}}}
]},

{"width":38,"height":43,"data":{"values":[{}]},"mark":{"type":"rect","color":"#8ED2F6"},"encoding":{}},
{"width":724,"height":1,"data":{"values":[]},"mark":"rect","title":{"text":"page 6","orient":"bottom","anchor":"end","offset":6,"font":"Liberation Serif","fontSize":17,"fontWeight":"bold","color":"#2BA6E1"}}
],
"config":{
 "view":{"stroke":null},
 "font":"Noto Sans CJK SC",
 "axis":{"labelFont":"Liberation Sans","labelFontSize":6,"labelColor":"#595959","ticks":false,"grid":false,"domain":false,"labelPadding":4},
 "legend":{"orient":"bottom","labelFont":"Noto Sans CJK SC","labelFontSize":6,"labelColor":"#595959","labelLimit":400,"offset":6,"padding":0,"columnPadding":10,"rowPadding":6,"labelOffset":3},
 "title":{"font":"Noto Sans CJK SC","fontSize":10,"fontWeight":"bold","color":"#262626","anchor":"middle"}
}
}
